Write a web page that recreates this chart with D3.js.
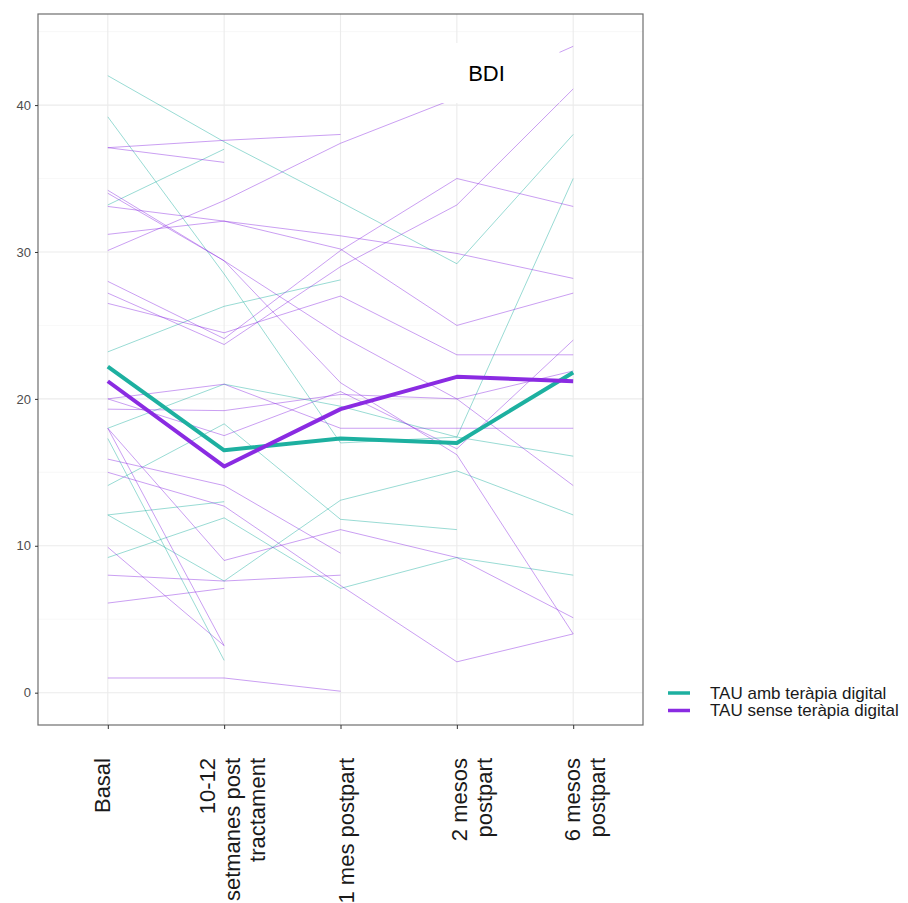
<!DOCTYPE html>
<html>
<head>
<meta charset="utf-8">
<script src="https://cdn.jsdelivr.net/npm/d3@7"></script>
<style>
  body { margin: 0; background: #ffffff; }
  text { font-family: "Liberation Sans", Arial, sans-serif; }
</style>
</head>
<body>
<svg id="chart" width="908" height="903"></svg>
<script>
// Time points of the follow-up and their (wrapped) axis labels
const timepoints = ["Basal", "10-12 setmanes post tractament", "1 mes postpart", "2 mesos postpart", "6 mesos postpart"];
const timeLabels = [["Basal"], ["10-12", "setmanes post", "tractament"], ["1 mes postpart"], ["2 mesos", "postpart"], ["6 mesos", "postpart"]];
const yTicks = [0, 10, 20, 30, 40];
const groups = ["TAU amb teràpia digital", "TAU sense teràpia digital"];

// Group means of the BDI score at each time point
const meanAmb = [22.2, 16.5, 17.3, 17.0, 21.8];
const meanSense = [21.2, 15.4, 19.3, 21.5, 21.2];

// Individual BDI trajectories, TAU amb teràpia digital (null = not assessed)
const ambPatients = [
  [42.0, 37.5, 33.4, 29.2, 38.0],
  [39.2, 28.5, 17.0, 17.4, 35.0],
  [33.2, 37.0, null, null, null],
  [23.2, 26.3, 28.1, null, null],
  [17.3, 2.2, null, null, null],
  [14.1, 18.3, 11.8, 11.1, null],
  [12.1, 13.0, null, null, null],
  [12.1, 7.6, 13.1, 15.1, 12.1],
  [9.2, 11.9, 7.1, 9.2, 8.0],
  [18.0, 21.0, 19.5, 17.4, 16.1]
];

// Individual BDI trajectories, TAU sense teràpia digital
const sensePatients = [
  [37.1, 37.6, 38.0, null, null],
  [37.1, 36.1, null, null, null],
  [30.1, 33.5, 37.4, 40.5, 44.0],
  [34.2, 29.4, 24.3, 20.0, 21.9],
  [34.0, 29.4, 21.1, 16.2, 4.0],
  [33.1, 32.1, 31.1, 29.9, 28.2],
  [31.2, 32.1, 30.2, 25.0, 27.2],
  [28.0, 24.1, 30.1, 35.0, 33.1],
  [27.2, 23.7, 29.0, 33.2, 41.1],
  [26.5, 24.5, 27.0, 23.0, 23.0],
  [20.0, 21.0, 18.0, 18.0, 18.0],
  [19.3, 19.2, 20.3, 20.0, 14.1],
  [18.0, 9.0, 11.1, 9.2, 5.1],
  [18.0, 3.2, null, null, null],
  [15.9, 14.1, 9.5, null, null],
  [15.0, 12.7, 7.3, 2.1, 4.0],
  [9.9, 3.2, null, null, null],
  [8.0, 7.6, 8.0, null, null],
  [6.1, 7.1, null, null, null],
  [1.0, 1.0, 0.1, null, null],
  [20.0, 17.5, 20.5, 16.6, 24.0]
];

const colAmb = "#1DB0A0";
const colSense = "#8A2BE2";

const svg = d3.select("#chart");
svg.append("rect").attr("width", 908).attr("height", 903).attr("fill", "#ffffff");

const panel = { left: 38, right: 643, top: 14, bottom: 725 };

const x = d3.scalePoint().domain(timepoints).range([panel.left, panel.right]).padding(0.6);
const y = d3.scaleLinear().domain([-2.2, 46.2]).range([panel.bottom, panel.top]);

// Grid
const grid = svg.append("g");
const minor = d3.range(5, 46, 10);
grid.selectAll(".minor").data(minor).join("line")
  .attr("x1", panel.left).attr("x2", panel.right)
  .attr("y1", d => y(d)).attr("y2", d => y(d))
  .attr("stroke", "#F3F3F3").attr("stroke-width", 0.6);
grid.selectAll(".majorY").data(yTicks).join("line")
  .attr("x1", panel.left).attr("x2", panel.right)
  .attr("y1", d => y(d)).attr("y2", d => y(d))
  .attr("stroke", "#EBEBEB").attr("stroke-width", 1.1);
grid.selectAll(".majorX").data(timepoints).join("line")
  .attr("x1", d => x(d)).attr("x2", d => x(d))
  .attr("y1", panel.top).attr("y2", panel.bottom)
  .attr("stroke", "#EBEBEB").attr("stroke-width", 1.1);

const line = d3.line()
  .defined(d => d != null)
  .x((d, i) => x(timepoints[i]))
  .y(d => y(d));

// Individual trajectories
const indiv = svg.append("g").attr("fill", "none");
indiv.selectAll(".amb").data(ambPatients).join("path")
  .attr("d", line).attr("stroke", colAmb).attr("stroke-opacity", 0.45).attr("stroke-width", 1);
indiv.selectAll(".sense").data(sensePatients).join("path")
  .attr("d", line).attr("stroke", colSense).attr("stroke-opacity", 0.45).attr("stroke-width", 1);

// Group means
const means = svg.append("g").attr("fill", "none");
means.append("path").datum(meanAmb).attr("d", line)
  .attr("stroke", colAmb).attr("stroke-width", 4).attr("stroke-linejoin", "round");
means.append("path").datum(meanSense).attr("d", line)
  .attr("stroke", colSense).attr("stroke-width", 4).attr("stroke-linejoin", "round");

// Title label with a white box behind it
const bdiX = 486.5, bdiY = 73;
svg.append("rect").attr("x", bdiX - 73).attr("y", bdiY - 30).attr("width", 146).attr("height", 60).attr("fill", "#ffffff");
svg.append("text").attr("x", bdiX).attr("y", bdiY).attr("text-anchor", "middle")
  .attr("dominant-baseline", "central").attr("font-size", 22).attr("fill", "#000").text("BDI");

// Panel border
svg.append("rect").attr("x", panel.left).attr("y", panel.top)
  .attr("width", panel.right - panel.left).attr("height", panel.bottom - panel.top)
  .attr("fill", "none").attr("stroke", "#6E6E6E").attr("stroke-width", 1.2);

// Y axis
const yAxis = svg.append("g").attr("transform", `translate(${panel.left},0)`)
  .call(d3.axisLeft(y).tickValues(yTicks).tickSize(3).tickPadding(4));
yAxis.select(".domain").remove();
yAxis.selectAll(".tick line").attr("stroke", "#333");
yAxis.selectAll(".tick text").attr("font-size", 13).attr("fill", "#4D4D4D")
  .attr("font-family", "Liberation Sans, Arial, sans-serif");

// X axis
const xAxis = svg.append("g").attr("transform", `translate(0,${panel.bottom})`)
  .call(d3.axisBottom(x).tickSize(4).tickFormat(""));
xAxis.select(".domain").remove();
xAxis.selectAll(".tick line").attr("stroke", "#333");

// Rotated, wrapped category labels
const shift = [-6, -17, 5, 2, -1];
const lineStep = 24.7;
timepoints.forEach((t, i) => {
  timeLabels[i].forEach((txt, j) => {
    const cx = x(t) + shift[i] + j * lineStep + 8;
    svg.append("text")
      .attr("transform", `translate(${cx},758) rotate(-90)`)
      .attr("text-anchor", "end")
      .attr("font-size", 22).attr("fill", "#1A1A1A")
      .text(txt);
  });
});

// Legend
const legend = svg.append("g").attr("transform", "translate(668,693)");
[colAmb, colSense].forEach((c, i) => {
  legend.append("line").attr("x1", 0).attr("x2", 22).attr("y1", i * 17.5).attr("y2", i * 17.5)
    .attr("stroke", c).attr("stroke-width", 3.5);
  legend.append("text").attr("x", 42).attr("y", i * 17.5).attr("dominant-baseline", "central")
    .attr("font-size", 17).attr("fill", "#1A1A1A").text(groups[i]);
});
</script>
</body>
</html>
